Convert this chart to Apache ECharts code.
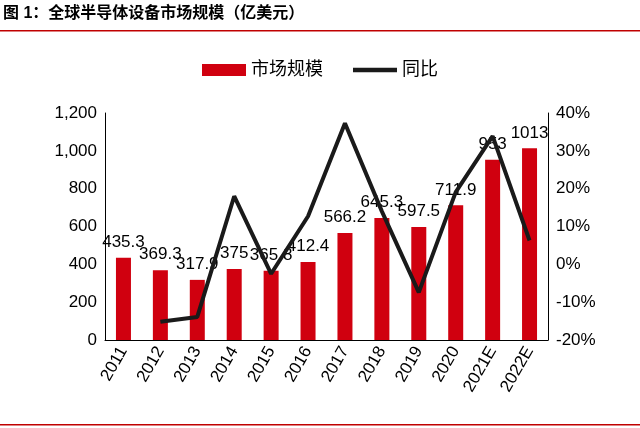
<!DOCTYPE html>
<html><head><meta charset="utf-8">
<script src="https://cdn.jsdelivr.net/npm/echarts@6/dist/echarts.min.js"></script>
<style>body{margin:0;background:#fff}#main{width:640px;height:428px}</style>
</head><body><div id="main"></div>
<script>
var years = ['2011','2012','2013','2014','2015','2016','2017','2018','2019','2020','2021E','2022E'];
var marketSize = [435.3,369.3,317.9,375,365.8,412.4,566.2,645.3,597.5,711.9,953,1013];
var yoy = [null,-15.2,-13.9,18.0,-2.5,12.7,37.3,14.0,-7.4,19.1,33.9,6.3];

var myChart = echarts.init(document.getElementById('main'));
var font = 'Arial, "Noto Sans CJK SC", sans-serif';
var option = {
    textStyle: {fontFamily: font},
    graphic: [
        {type: 'text', left: 3, top: 6, style: {text: '图 1：全球半导体设备市场规模（亿美元）', fill: '#000', font: 'bold 16px ' + font}},
        {type: 'rect', shape: {x: 0, y: 30, width: 640, height: 1.5}, style: {fill: '#c00000'}},
        {type: 'rect', shape: {x: 0, y: 424, width: 640, height: 1.5}, style: {fill: '#c00000'}}
    ],
    legend: {
        top: 56, left: 'center', itemGap: 30,
        textStyle: {fontSize: 18, color: '#000'},
        data: [
            {name: '市场规模', icon: 'rect', itemStyle: {color: '#d0000f'}},
            {name: '同比', icon: 'path://M0,0H40V4H0Z'}
        ],
        itemWidth: 44, itemHeight: 12
    },
    grid: {left: 105, right: 92, top: 113, bottom: 88},
    xAxis: {
        type: 'category', data: years,
        axisLine: {lineStyle: {color: '#000'}}, axisTick: {show: false},
        axisLabel: {rotate: 60, fontSize: 17, color: '#000', interval: 0}
    },
    yAxis: [
        {type: 'value', min: 0, max: 1200, interval: 200,
         axisLine: {show: true, lineStyle: {color: '#000'}}, axisTick: {show: false},
         splitLine: {show: false}, axisLabel: {fontSize: 17, color: '#000', formatter: '{value}'}},
        {type: 'value', min: -20, max: 40, interval: 10,
         axisLine: {show: true, lineStyle: {color: '#000'}}, axisTick: {show: false},
         splitLine: {show: false}, axisLabel: {fontSize: 17, color: '#000', formatter: '{value}%'}}
    ],
    series: [
        {name: '市场规模', type: 'bar', data: marketSize, barWidth: 15, z: 2,
         itemStyle: {color: '#d0000f'},
         label: {show: true, position: 'top', fontSize: 17, color: '#000', offset: [0, -2]}},
        {name: '同比', type: 'line', yAxisIndex: 1, data: yoy, symbol: 'none', z: 3,
         lineStyle: {color: '#1a1a1a', width: 4}, itemStyle: {color: '#1a1a1a'}}
    ]
};
myChart.setOption(option);
</script></body></html>
